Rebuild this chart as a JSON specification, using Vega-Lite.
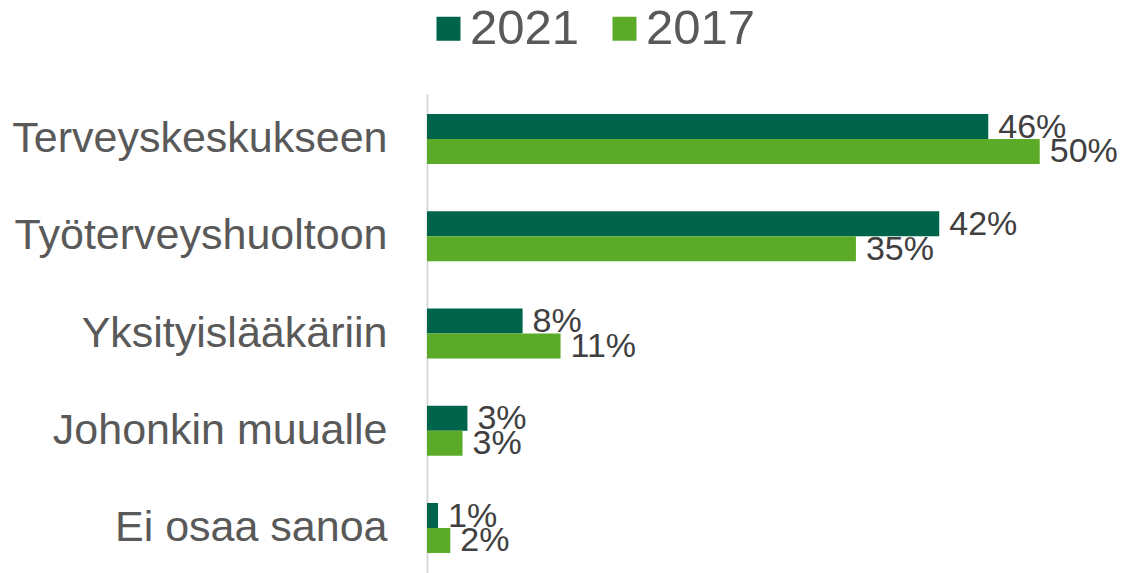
{
  "$schema": "https://vega.github.io/schema/vega-lite/v6.json",
  "autosize": {"type": "none"},
  "width": 674,
  "height": 479,
  "padding": {"left": 427, "top": 94, "right": 21, "bottom": 0},
  "background": "white",
  "config": {"view": {"stroke": null}, "font": "Liberation Sans"},
  "data": {
    "values": [
      {"kohde": "Terveyskeskukseen", "vuosi": "2021", "osuus": 0.458},
      {"kohde": "Terveyskeskukseen", "vuosi": "2017", "osuus": 0.50},
      {"kohde": "Työterveyshuoltoon", "vuosi": "2021", "osuus": 0.418},
      {"kohde": "Työterveyshuoltoon", "vuosi": "2017", "osuus": 0.35},
      {"kohde": "Yksityislääkäriin", "vuosi": "2021", "osuus": 0.078},
      {"kohde": "Yksityislääkäriin", "vuosi": "2017", "osuus": 0.109},
      {"kohde": "Johonkin muualle", "vuosi": "2021", "osuus": 0.033},
      {"kohde": "Johonkin muualle", "vuosi": "2017", "osuus": 0.029},
      {"kohde": "Ei osaa sanoa", "vuosi": "2021", "osuus": 0.009},
      {"kohde": "Ei osaa sanoa", "vuosi": "2017", "osuus": 0.019}
    ]
  },
  "encoding": {
    "y": {
      "field": "kohde",
      "type": "nominal",
      "sort": null,
      "scale": {"paddingInner": 0.486, "paddingOuter": 0.2057},
      "axis": {
        "title": null,
        "ticks": false,
        "domainColor": "#d9d9d9",
        "domainWidth": 2,
        "labelFontSize": 43,
        "labelColor": "#595959",
        "labelPadding": 40,
        "labelLimit": 500
      }
    },
    "yOffset": {
      "field": "vuosi",
      "type": "nominal",
      "sort": ["2021", "2017"],
      "scale": {"paddingInner": 0, "paddingOuter": 0}
    },
    "x": {
      "field": "osuus",
      "type": "quantitative",
      "scale": {"domain": [0, 0.55]},
      "axis": null
    }
  },
  "layer": [
    {
      "mark": {"type": "bar", "strokeWidth": 0},
      "encoding": {
        "color": {
          "field": "vuosi",
          "type": "nominal",
          "scale": {"domain": ["2021", "2017"], "range": ["#00644b", "#5bab28"]},
          "legend": {
            "title": null,
            "orient": "none",
            "direction": "horizontal",
            "legendX": -3,
            "legendY": -90,
            "padding": 0,
            "symbolType": "square",
            "symbolSize": 576,
            "symbolStrokeWidth": 0,
            "labelFontSize": 49,
            "labelColor": "#595959",
            "labelOffset": -3,
            "columnPadding": 20
          }
        }
      }
    },
    {
      "mark": {"type": "text", "align": "left", "baseline": "middle", "dx": 10, "dy": 1, "fontSize": 34, "color": "#404040"},
      "encoding": {
        "text": {"field": "osuus", "type": "quantitative", "format": ".0%"}
      }
    }
  ]
}
